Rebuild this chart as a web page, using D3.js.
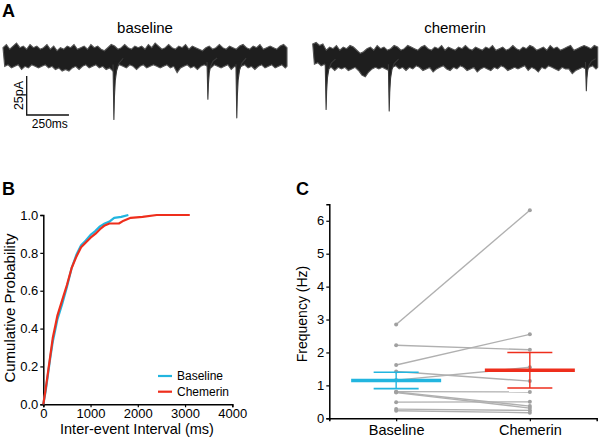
<!DOCTYPE html>
<html><head><meta charset="utf-8">
<script src="https://cdn.jsdelivr.net/npm/d3@7"></script>
<style>
html,body{margin:0;padding:0;background:#fff;}
svg{display:block;font-family:"Liberation Sans",Arial,Helvetica,sans-serif;}
</style></head>
<body>
<svg id="chart" width="600" height="439"></svg>
<script>
// ---------- DATA ----------
// Panel A: trace envelopes (pA) sampled every 20 ms, events (ms, pA amplitude)
const traceStepMs = 20;
const baselineHi = [6,8,5,7,9,6,7,5,8,6, 7,5,6,8,5,7,4,6,5,7, 6,8,5,6,7,5,8,6,7,5, 4,6,8,7,5,6,8,6,5,7, 6,7,5,8,6,9,7,5,6,8, 6,5,7,6,8,5,7,6,5,4, 6,7,5,6,8,6,5,7,6,5, 7,8,6,5,7,6,8,5,6,7, 6,5,7,8,6];
const baselineLo = [-6,-5,-7,-6,-5,-8,-6,-7,-5,-6, -7,-6,-5,-7,-6,-8,-7,-9,-8,-9, -7,-6,-8,-6,-5,-7,-6,-5,-7,-6, -8,-7,-9,-6,-5,-6,-7,-5,-6,-8, -6,-5,-7,-6,-5,-6,-7,-6,-5,-7, -6,-10,-7,-6,-5,-7,-6,-8,-6,-5, -6,-7,-5,-6,-7,-6,-5,-8,-6,-7, -6,-5,-7,-6,-8,-6,-5,-7,-6,-5, -7,-6,-5,-7,-6];
const baselineEventTimes = [656, 1212, 1383];
const baselineEventAmps = [40, 27, 39];
const chemerinHi = [9,10,8,9,5,7,6,8,5,7, 6,8,7,5,3,4,6,7,5,8, 6,7,5,6,8,7,5,6,8,7, 6,5,7,8,6,5,7,6,8,5, 7,6,5,7,6,8,6,5,7,6, 5,7,6,8,5,6,7,5,6,8, 6,5,7,6,8,7,5,6,7,5, 8,6,7,5,6,7,8,5,6,7, 8,7,6,8,7];
const chemerinLo = [-4,-3,-5,-4,-7,-6,-8,-6,-7,-6, -8,-7,-6,-8,-11,-12,-9,-7,-6,-7, -6,-7,-8,-6,-5,-7,-6,-8,-6,-7, -5,-6,-8,-7,-6,-9,-7,-6,-5,-7, -8,-6,-7,-5,-6,-8,-7,-6,-9,-7, -6,-7,-8,-6,-7,-5,-6,-8,-7,-6, -7,-6,-5,-8,-6,-7,-9,-6,-7,-5, -6,-7,-8,-6,-7,-7,-10,-8,-7,-6, -7,-6,-5,-7,-6];
const chemerinEventTimes = [79, 451, 1613];
const chemerinEventAmps = [33, 34, 21];
const eventShapeDt = [-5, 0, 3, 8, 16, 30, 55];
const eventShapeFrac = [0.12, 1, 0.65, 0.38, 0.22, 0.1, 0.02];
const scaleBarMs = 250, scaleBarPa = 25;

// Panel B: cumulative probability of inter-event interval
const baselineCumMs = [0,50,100,150,200,250,300,400,500,600,700,800,900,1000,1100,1200,1300,1400,1500,1650,1800];
const baselineCumP  = [0,0.07,0.16,0.25,0.33,0.39,0.45,0.53,0.62,0.72,0.79,0.84,0.865,0.895,0.915,0.94,0.955,0.965,0.985,0.99,1.0];
const chemerinCumMs = [0,50,100,150,200,250,300,400,500,600,700,800,900,1000,1100,1200,1300,1400,1600,1700,1850,2100,2400,3100];
const chemerinCumP  = [0,0.08,0.17,0.26,0.35,0.41,0.47,0.55,0.63,0.72,0.78,0.83,0.855,0.88,0.9,0.925,0.945,0.955,0.955,0.97,0.985,0.99,1.0,1.0];
const bXTicks = [0,1000,2000,3000,4000];
const bYTicks = [0,0.2,0.4,0.6,0.8,1.0];

// Panel C: paired frequencies (Hz)
const groups = ["Baseline","Chemerin"];
const freqBaseline = [2.85,2.22,1.62,1.42,1.16,0.81,0.80,0.78,0.49,0.28,0.23];
const freqChemerin = [6.32,2.08,2.55,1.13,1.55,0.80,0.37,0.31,0.50,0.24,0.17];
const groupMeans = [1.15,1.46];
const groupSems = [0.25,0.54];
const cYTicks = [0,1,2,3,4,5,6];

const colBase = "#22b5df", colChem = "#ee2e1c";

// ---------- DRAW ----------
const svg = d3.select("#chart");
svg.append("rect").attr("width",600).attr("height",439).attr("fill","#fff");

function panelLabel(t,x,y){
  svg.append("text").attr("x",x).attr("y",y).attr("font-size",18).attr("font-weight","bold").text(t);
}
panelLabel("A",2,17); panelLabel("B",2,195); panelLabel("C",296,195);

// ---- Panel A ----
function drawTrace(hi, lo, evT, evA, x0, x1, yc, title, titleX){
  const dur = (hi.length-1)*traceStepMs;
  const x = d3.scaleLinear().domain([0,dur]).range([x0,x1]);
  const y = d3.scaleLinear().domain([-scaleBarPa,0]).range([yc+39,yc]);
  const pts = hi.map((h,i)=>({t:i*traceStepMs,hi:h,lo:lo[i]}));
  const g = svg.append("g");
  // staggered envelope: upper edge at sample times, lower edge half a step later
  const upper = pts.map(d=>[x(d.t), y(d.hi)]);
  const lower = pts.map(d=>[x(Math.min(d.t+traceStepMs/2, dur)), y(d.lo)]).reverse();
  const poly = upper.concat(lower);
  g.append("path").attr("d","M"+poly.map(p=>p.join(",")).join("L")+"Z")
    .attr("fill","#1e1e1e").attr("stroke","#555").attr("stroke-width",1.1).attr("stroke-linejoin","miter");
  evT.forEach((t,k)=>{
    const amp = evA[k];
    const low = eventShapeDt.map((dt,j)=>[x(t+dt), y(-amp*eventShapeFrac[j])]);
    const polyE = low.concat([[x(t+eventShapeDt[eventShapeDt.length-1]), y(-3)],[x(t+eventShapeDt[0]), y(-3)]]);
    g.append("path").attr("d","M"+polyE.map(p=>p.join(",")).join("L")+"Z").attr("fill","#1e1e1e").attr("stroke","none");
    g.append("path").attr("d","M"+low.map(p=>p.join(",")).join("L"))
      .attr("fill","none").attr("stroke","#3a3a3a").attr("stroke-width",1.1).attr("stroke-linejoin","round");
  });
  svg.append("text").attr("x",titleX).attr("y",33).attr("text-anchor","middle").attr("font-size",15).text(title);
  return {x,y};
}
const tA = drawTrace(baselineHi, baselineLo, baselineEventTimes, baselineEventAmps, 3, 287, 57, "baseline", 145);
drawTrace(chemerinHi, chemerinLo, chemerinEventTimes, chemerinEventAmps, 312.7, 597.7, 58, "chemerin", 455);

// scale bar
{
  const sx = 26.7, sy = 115;
  const lenX = tA.x(scaleBarMs)-tA.x(0);
  const lenY = tA.y(-scaleBarPa)-tA.y(0);
  svg.append("path").attr("d",`M${sx},${sy-lenY}L${sx},${sy}L${sx+lenX},${sy}`)
    .attr("fill","none").attr("stroke","#111").attr("stroke-width",1.3);
  svg.append("text").attr("transform",`translate(22.5,${sy-lenY/2}) rotate(-90)`).attr("text-anchor","middle")
    .attr("font-size",12.5).text(scaleBarPa+"pA");
  svg.append("text").attr("x",sx+lenX/2+2).attr("y",128).attr("text-anchor","middle").attr("font-size",12).text(scaleBarMs+"ms");
}

// ---- Panel B ----
const xB = d3.scaleLinear().domain([0,4000]).range([43.3,232.3]);
const yB = d3.scaleLinear().domain([0,1]).range([404.3,215]);
function styleAxis(g, fs){
  g.select(".domain").attr("stroke","#000").attr("stroke-width",1.5);
  g.selectAll(".tick line").attr("stroke","#000").attr("stroke-width",1.2);
  g.selectAll(".tick text").attr("font-size",fs).attr("fill","#000").attr("font-family","Liberation Sans, Arial, sans-serif");
}
const gbx = svg.append("g").attr("transform","translate(0,404.3)")
  .call(d3.axisBottom(xB).tickValues(bXTicks).tickFormat(d3.format("d")).tickSizeOuter(0).tickSize(3).tickPadding(1));
styleAxis(gbx,13);
const gby = svg.append("g").attr("transform","translate(43.3,0)")
  .call(d3.axisLeft(yB).tickValues(bYTicks).tickFormat(d3.format(".1f")).tickSizeOuter(0).tickSize(3).tickPadding(2));
styleAxis(gby,13);
svg.append("text").attr("x",137).attr("y",434).attr("text-anchor","middle").attr("font-size",14.5).text("Inter-event Interval (ms)");
svg.append("text").attr("transform","translate(15,308) rotate(-90)").attr("text-anchor","middle").attr("font-size",15).text("Cumulative Probability");
const lineB = d3.line().x(d=>xB(d[0])).y(d=>yB(d[1]));
svg.append("path").attr("d",lineB(baselineCumMs.map((v,i)=>[v,baselineCumP[i]])))
  .attr("fill","none").attr("stroke",colBase).attr("stroke-width",2.2).attr("stroke-linejoin","round");
svg.append("path").attr("d",lineB(chemerinCumMs.map((v,i)=>[v,chemerinCumP[i]])))
  .attr("fill","none").attr("stroke",colChem).attr("stroke-width",2.2).attr("stroke-linejoin","round");
// legend
[["Baseline",colBase,376],["Chemerin",colChem,391.7]].forEach(([t,c,y])=>{
  svg.append("line").attr("x1",158).attr("x2",172).attr("y1",y).attr("y2",y).attr("stroke",c).attr("stroke-width",2.2);
  svg.append("text").attr("x",177).attr("y",y+4.3).attr("font-size",12).text(t);
});

// ---- Panel C ----
const xC = d3.scalePoint().domain(groups).range([329.3,596.7]).padding(0.5);
const yC = d3.scaleLinear().domain([0,6.5]).range([418.3,204.3]);
const gcx = svg.append("g").attr("transform","translate(0,418.3)")
  .call(d3.axisBottom(xC).tickSizeOuter(0).tickSize(3).tickPadding(3));
styleAxis(gcx,14.5);
const gcy = svg.append("g").attr("transform","translate(329.3,0)")
  .call(d3.axisLeft(yC).tickValues(cYTicks).tickFormat(d3.format("d")).tickSizeOuter(0).tickSize(3).tickPadding(2));
styleAxis(gcy,13);
svg.append("text").attr("transform","translate(307,314) rotate(-90)").attr("text-anchor","middle").attr("font-size",14).text("Frequency (Hz)");

freqBaseline.forEach((b,i)=>{
  const c = freqChemerin[i];
  svg.append("line").attr("x1",xC("Baseline")).attr("x2",xC("Chemerin")).attr("y1",yC(b)).attr("y2",yC(c))
    .attr("stroke","#b0b0b0").attr("stroke-width",1.4);
});
freqBaseline.forEach((b,i)=>{
  svg.append("circle").attr("cx",xC("Baseline")).attr("cy",yC(b)).attr("r",2).attr("fill","#a0a0a0");
  svg.append("circle").attr("cx",xC("Chemerin")).attr("cy",yC(freqChemerin[i])).attr("r",2).attr("fill","#a0a0a0");
});
groups.forEach((gname,i)=>{
  const cx = xC(gname), col = i===0?colBase:colChem;
  const m = groupMeans[i], s = groupSems[i];
  svg.append("line").attr("x1",cx).attr("x2",cx).attr("y1",yC(m+s)).attr("y2",yC(m-s)).attr("stroke",col).attr("stroke-width",1.4);
  [m+s,m-s].forEach(v=>svg.append("line").attr("x1",cx-22.5).attr("x2",cx+22.5).attr("y1",yC(v)).attr("y2",yC(v))
      .attr("stroke",col).attr("stroke-width",1.6));
  svg.append("line").attr("x1",cx-45).attr("x2",cx+45).attr("y1",yC(m)).attr("y2",yC(m)).attr("stroke",col).attr("stroke-width",3.5);
});
</script>
</body></html>
